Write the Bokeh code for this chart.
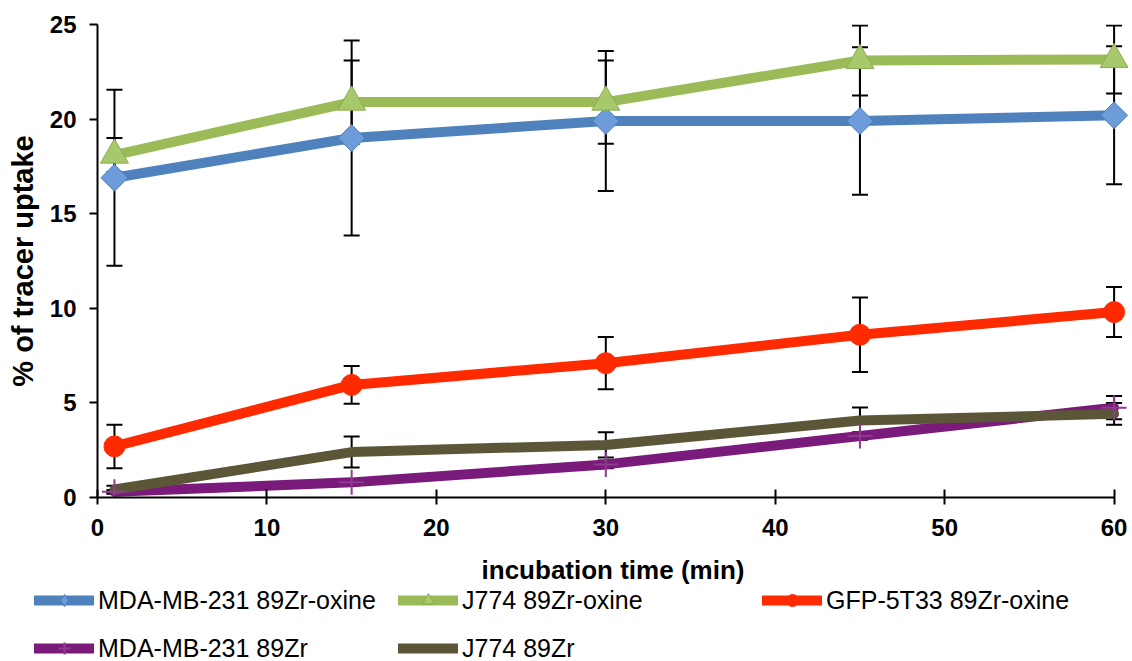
import numpy as np
from bokeh.plotting import figure
from bokeh.layouts import column, row
from bokeh.models import Range1d, FixedTicker, Legend, LegendItem
from bokeh.embed import file_html
from bokeh.resources import INLINE

# ---------------- data ----------------
times = [1, 15, 30, 45, 60]
series_names = ["MDA-MB-231 89Zr-oxine", "J774 89Zr-oxine", "GFP-5T33 89Zr-oxine",
                "MDA-MB-231 89Zr", "J774 89Zr"]
mda_oxine = [16.9, 19.0, 19.9, 19.9, 20.2]
mda_oxine_err = [4.65, 5.15, 3.7, 3.9, 3.65]
j774_oxine = [18.1, 20.9, 20.9, 23.1, 23.15]
j774_oxine_err = [0.9, 2.2, 2.2, 1.85, 1.8]
gfp_oxine = [2.7, 5.95, 7.1, 8.6, 9.8]
gfp_oxine_err = [1.15, 1.0, 1.38, 1.97, 1.32]
mda_zr = [0.3, 0.8, 1.75, 3.25, 4.75]
mda_zr_err = [0.1, 0.15, 0.2, 0.2, 0.62]
j774_zr = [0.42, 2.4, 2.78, 4.07, 4.42]
j774_zr_err = [0.2, 0.82, 0.67, 0.69, 0.58]
x_ticks = [0, 10, 20, 30, 40, 50, 60]
y_ticks = [0, 5, 10, 15, 20, 25]

values = [mda_oxine, j774_oxine, gfp_oxine, mda_zr, j774_zr]
errors = [mda_oxine_err, j774_oxine_err, gfp_oxine_err, mda_zr_err, j774_zr_err]

# ---------------- styles ----------------
line_colors = ["#4F81BD", "#9BBB59", "#FF2A00", "#7A1A7A", "#5C5639"]
markers = [
    dict(marker="square", size=19, angle=np.pi / 4, fill_color="#6C9DDA", line_color="#4A7EBB", line_width=1),
    dict(marker="triangle", size=28, angle=0.0, fill_color="#A8C86C", line_color="#8CAB52", line_width=1),
    dict(marker="circle", size=21, angle=0.0, fill_color="#FF2A00", line_color="#FF2A00", line_width=1),
    dict(marker="cross", size=25, angle=0.0, fill_color=None, line_color="#8E3A8E", line_width=2),
    None,
]
legend_markers = [
    dict(marker="diamond", size=20, fill_color="#6C9DDA", line_color="#4A7EBB", line_width=1),
    dict(marker="triangle", size=20, fill_color="#A8C86C", line_color="#8CAB52", line_width=1),
    dict(marker="circle", size=20, fill_color="#FF2A00", line_color="#FF2A00", line_width=1),
    dict(marker="cross", size=20, fill_color=None, line_color="#8E3A8E", line_width=2),
    None,
]

FONT = "Liberation Sans"

p = figure(frame_width=1031, frame_height=473, output_backend="svg", toolbar_location=None,
           x_range=Range1d(0, 60.85), y_range=Range1d(0, 25),
           min_border_left=97, min_border_right=0, min_border_top=24, min_border_bottom=10,
           background_fill_color="white", border_fill_color="white")
p.outline_line_color = None
p.xgrid.visible = False
p.ygrid.visible = False

# error bars
for vals, errs in zip(values, errors):
    v = np.array(vals)
    e = np.array(errs)
    p.segment(x0=times, y0=v - e, x1=times, y1=v + e, line_color="black", line_width=2)
    p.scatter(x=times + times, y=list(v - e) + list(v + e), marker="dash", size=16,
              line_color="black", line_width=2)

for vals, col in zip(values, line_colors):
    p.line(times, vals, line_color=col, line_width=10, line_join="round", line_cap="round")
for vals, mk in zip(values, markers):
    if mk is not None:
        p.scatter(times, vals, **mk)

# axes
for ax in (p.xaxis[0], p.yaxis[0]):
    ax.axis_line_color = "black"
    ax.axis_line_width = 2
    ax.major_tick_line_color = "black"
    ax.major_tick_line_width = 2
    ax.minor_tick_line_color = None
    ax.major_label_text_font = FONT
    ax.major_label_text_font_style = "bold"
    ax.major_label_text_font_size = "24px"
    ax.major_label_text_color = "black"
    ax.axis_label_text_font = FONT
    ax.axis_label_text_font_style = "bold"
    ax.axis_label_text_color = "black"

p.xaxis.ticker = FixedTicker(ticks=x_ticks)
p.yaxis.ticker = FixedTicker(ticks=y_ticks)
p.xaxis.bounds = (0, 60)
p.yaxis.bounds = (0, 25)
p.xaxis.major_tick_in = 8
p.xaxis.major_tick_out = 7
p.yaxis.major_tick_in = 0
p.yaxis.major_tick_out = 8
p.xaxis.major_label_standoff = 14
p.yaxis.major_label_standoff = 13
p.xaxis.axis_label = "incubation time (min)"
p.yaxis.axis_label = "% of tracer uptake"
p.xaxis.axis_label_text_font_size = "26px"
p.yaxis.axis_label_text_font_size = "29px"
p.xaxis.axis_label_standoff = 16
p.yaxis.axis_label_standoff = 8

# ---------------- legend strip ----------------
lg = figure(width=1128, height=79, output_backend="svg", toolbar_location=None,
            x_range=Range1d(-20, -10), y_range=Range1d(0, 1),
            x_axis_location=None, y_axis_location=None,
            min_border=0, min_border_left=0, min_border_right=0,
            background_fill_color="white", border_fill_color="white")
lg.outline_line_color = None
lg.grid.visible = False

items = []
for i, (vals, col, mk) in enumerate(zip(values, line_colors, legend_markers)):
    rs = [lg.line(times, vals, line_color=col, line_width=10, line_cap="round")]
    if mk is not None:
        rs.append(lg.scatter(times, vals, **mk))
    items.append(LegendItem(label=series_names[i], renderers=rs))

legend = Legend(items=items, location=(34, 3), orientation="horizontal", ncols=3,
                glyph_width=60, glyph_height=30, label_height=30, label_width=282,
                label_standoff=4, spacing=18, padding=0, margin=0,
                border_line_color=None, background_fill_alpha=0,
                label_text_font=FONT, label_text_font_size="25px", label_text_color="black")
lg.add_layout(legend)

layout = column(p, row(lg), spacing=0)
open("out.html", "w").write(file_html(layout, INLINE))
